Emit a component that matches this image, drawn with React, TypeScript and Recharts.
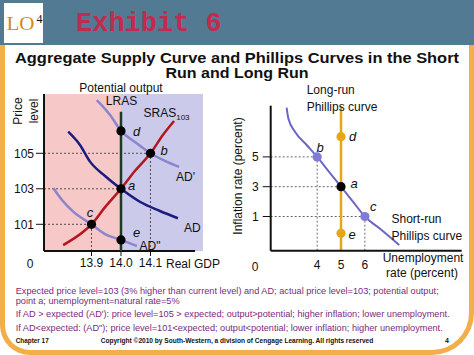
import React from 'react';
import { ComposedChart, Line, Scatter, XAxis, YAxis, ReferenceArea, ReferenceLine } from 'recharts';

const FONT = '"Liberation Sans", Arial, Helvetica, sans-serif';

// ---------- Left panel: aggregate supply / demand ----------
const AS_X_TICKS = [13.9, 14.0, 14.1];
const AS_Y_TICKS = [101, 103, 105];
const AS_X_DOMAIN: [number, number] = [13.739, 14.278];
const AS_Y_DOMAIN: [number, number] = [99.496, 108.34];
const AS_AXIS_END = 14.251;
const POTENTIAL_OUTPUT = 14.0;
const LRAS_TOP = 107.34;

const AD_CURVE = [
  { x: 13.821, y: 106.22 }, { x: 13.861, y: 105.47 }, { x: 13.895, y: 104.53 },
  { x: 13.946, y: 103.72 }, { x: 14.0, y: 103.0 }, { x: 14.064, y: 102.27 },
  { x: 14.132, y: 101.75 }, { x: 14.193, y: 101.34 },
];
const AD_HIGH_CURVE = [
  { x: 13.918, y: 108.0 }, { x: 13.963, y: 107.16 }, { x: 14.0, y: 106.26 },
  { x: 14.047, y: 105.64 }, { x: 14.1, y: 105.0 }, { x: 14.149, y: 104.57 },
  { x: 14.197, y: 104.23 },
];
const AD_LOW_CURVE = [
  { x: 13.771, y: 103.03 }, { x: 13.8, y: 102.37 }, { x: 13.838, y: 101.71 },
  { x: 13.9, y: 101.0 }, { x: 13.946, y: 100.45 }, { x: 14.0, y: 100.12 },
  { x: 14.054, y: 99.78 },
];
const SRAS_CURVE = [
  { x: 13.804, y: 99.83 }, { x: 13.872, y: 100.58 }, { x: 13.9, y: 101.0 },
  { x: 13.946, y: 101.97 }, { x: 14.0, y: 103.0 }, { x: 14.047, y: 104.0 },
  { x: 14.1, y: 105.0 }, { x: 14.142, y: 106.03 }, { x: 14.18, y: 106.82 },
];
const AS_POINTS = [
  { name: 'd', x: 14.0, y: 106.26 },
  { name: 'b', x: 14.1, y: 105.0 },
  { name: 'a', x: 14.0, y: 103.0 },
  { name: 'c', x: 13.9, y: 101.0 },
  { name: 'e', x: 14.0, y: 100.12 },
];
const AS_H_GUIDES = ['b', 'a', 'c'];
const AS_V_GUIDES = ['b', 'c'];

// ---------- Right panel: Phillips curves ----------
const PC_X_TICKS = [4, 5, 6];
const PC_Y_TICKS = [1, 3, 5];
const PC_X_DOMAIN: [number, number] = [2.052, 10.06];
const PC_Y_DOMAIN: [number, number] = [-1.295, 8.436];
const NATURAL_RATE = 5;
const LRPC_TOP = 8.43;
const SRPC_CURVE = [
  { x: 2.72, y: 8.3 }, { x: 2.79, y: 7.59 }, { x: 3.07, y: 6.69 }, { x: 3.56, y: 5.8 },
  { x: 4.0, y: 5.0 }, { x: 4.5, y: 4.0 }, { x: 5.0, y: 3.0 }, { x: 5.5, y: 2.0 },
  { x: 6.0, y: 1.0 }, { x: 6.7, y: 0.1 }, { x: 7.44, y: -0.91 },
];
const PC_POINTS = [
  { name: 'd', x: 5, y: 6.36 },
  { name: 'b', x: 4, y: 5 },
  { name: 'a', x: 5, y: 3 },
  { name: 'c', x: 6, y: 1 },
  { name: 'e', x: 5, y: -0.13 },
];
const PC_H_GUIDES = ['b', 'a', 'c'];
const PC_V_GUIDES = ['b', 'c'];

const PC_POINT_COLORS: Record<string, string> = {
  d: '#e6a619', e: '#e6a619', a: '#000000', b: '#7f7bd6', c: '#7f7bd6',
};

const tickStyle = { fill: '#111', fontSize: 12, fontFamily: FONT };

function pick(list: { name: string; x: number; y: number }[], n: string) {
  return list.find((p) => p.name === n)!;
}

function ASChart() {
  return (
    <div style={{ position: 'absolute', left: 0, top: 0 }}>
      <ComposedChart width={240} height={290} margin={{ top: 94, right: 37, bottom: 9, left: 14 }}>
        <XAxis type="number" dataKey="x" domain={AS_X_DOMAIN} ticks={AS_X_TICKS} allowDataOverflow
          axisLine={false} tickLine={{ stroke: '#111' }} tickSize={5} tickMargin={2} height={30}
          tick={tickStyle} interval={0} tickFormatter={(v: number) => v.toFixed(1)} />
        <YAxis type="number" dataKey="y" domain={AS_Y_DOMAIN} ticks={AS_Y_TICKS} allowDataOverflow
          axisLine={{ stroke: '#111', strokeWidth: 2 }} tickLine={{ stroke: '#111' }} tickSize={8}
          tickMargin={2} width={30} tick={tickStyle} interval={0} />
        <ReferenceArea x1={AS_X_DOMAIN[0]} x2={POTENTIAL_OUTPUT} y1={AS_Y_DOMAIN[0]} y2={AS_Y_DOMAIN[1]}
          fill="#f6c8c7" fillOpacity={1} stroke="none" ifOverflow="visible" />
        <ReferenceArea x1={POTENTIAL_OUTPUT} x2={AS_X_DOMAIN[1]} y1={AS_Y_DOMAIN[0]} y2={AS_Y_DOMAIN[1]}
          fill="#cbcaea" fillOpacity={1} stroke="none" ifOverflow="visible" />
        {AS_H_GUIDES.map((n) => {
          const p = pick(AS_POINTS, n);
          return <ReferenceLine key={'h' + n} segment={[{ x: AS_X_DOMAIN[0], y: p.y }, { x: p.x, y: p.y }]}
            stroke="#5a4a4a" strokeWidth={1} strokeDasharray="2 2" ifOverflow="visible" />;
        })}
        {AS_V_GUIDES.map((n) => {
          const p = pick(AS_POINTS, n);
          return <ReferenceLine key={'v' + n} segment={[{ x: p.x, y: AS_Y_DOMAIN[0] }, { x: p.x, y: p.y }]}
            stroke="#5a4a4a" strokeWidth={1} strokeDasharray="2 2" ifOverflow="visible" />;
        })}
        <ReferenceLine segment={[{ x: AS_X_DOMAIN[0], y: AS_Y_DOMAIN[0] }, { x: AS_AXIS_END, y: AS_Y_DOMAIN[0] }]}
          stroke="#111" strokeWidth={2} ifOverflow="visible" />
        <Line data={AD_HIGH_CURVE} dataKey="y" type="monotone" stroke="#8d84cf" strokeWidth={2.5} dot={false} isAnimationActive={false} />
        <Line data={AD_LOW_CURVE} dataKey="y" type="monotone" stroke="#8d84cf" strokeWidth={2.5} dot={false} isAnimationActive={false} />
        <Line data={AD_CURVE} dataKey="y" type="monotone" stroke="#1b1b82" strokeWidth={2.5} dot={false} isAnimationActive={false} />
        <Line data={SRAS_CURVE} dataKey="y" type="monotone" stroke="#b3161d" strokeWidth={2.5} dot={false} isAnimationActive={false} />
        <Line data={[{ x: POTENTIAL_OUTPUT, y: AS_Y_DOMAIN[0] }, { x: POTENTIAL_OUTPUT, y: LRAS_TOP }]} dataKey="y"
          type="linear" stroke="#1d3a24" strokeWidth={2.5} dot={false} isAnimationActive={false} />
        <Scatter data={AS_POINTS} isAnimationActive={false}
          shape={(p: any) => <circle cx={p.cx} cy={p.cy} r={4.6} fill="#000" />} />
      </ComposedChart>
    </div>
  );
}

function PCChart() {
  return (
    <div style={{ position: 'absolute', left: 230, top: 80 }}>
      <ComposedChart width={244} height={210} margin={{ top: 25.7, right: 12.3, bottom: 9.3, left: 10.7 }}>
        <XAxis type="number" dataKey="x" domain={PC_X_DOMAIN} ticks={PC_X_TICKS} allowDataOverflow
          axisLine={{ stroke: '#111', strokeWidth: 2 }} tickLine={false} tickSize={6} tickMargin={4} height={30}
          tick={tickStyle} interval={0} />
        <YAxis type="number" dataKey="y" domain={PC_Y_DOMAIN} ticks={PC_Y_TICKS} allowDataOverflow
          axisLine={{ stroke: '#111', strokeWidth: 2 }} tickLine={{ stroke: '#111' }} tickSize={8}
          tickMargin={4} width={30} tick={tickStyle} interval={0} />
        {PC_H_GUIDES.map((n) => {
          const p = pick(PC_POINTS, n);
          return <ReferenceLine key={'h' + n} segment={[{ x: PC_X_DOMAIN[0], y: p.y }, { x: p.x, y: p.y }]}
            stroke="#6a6a6a" strokeWidth={1} strokeDasharray="2 2" ifOverflow="visible" />;
        })}
        {PC_V_GUIDES.map((n) => {
          const p = pick(PC_POINTS, n);
          return <ReferenceLine key={'v' + n} segment={[{ x: p.x, y: PC_Y_DOMAIN[0] }, { x: p.x, y: p.y }]}
            stroke="#6a6a6a" strokeWidth={1} strokeDasharray="2 2" ifOverflow="visible" />;
        })}
        <Line data={[{ x: NATURAL_RATE, y: PC_Y_DOMAIN[0] }, { x: NATURAL_RATE, y: LRPC_TOP }]} dataKey="y"
          type="linear" stroke="#e6a619" strokeWidth={2.5} dot={false} isAnimationActive={false} />
        <Line data={SRPC_CURVE} dataKey="y" type="monotone" stroke="#6c66c6" strokeWidth={2} dot={false} isAnimationActive={false} />
        <Scatter data={PC_POINTS} isAnimationActive={false}
          shape={(p: any) => <circle cx={p.cx} cy={p.cy} r={4.6} fill={PC_POINT_COLORS[p.payload.name]} />} />
      </ComposedChart>
    </div>
  );
}

function Overlay() {
  const txt = { fontFamily: FONT, fill: '#111' } as const;
  const purple = { fontFamily: FONT, fill: '#7b2a7d', fontSize: 9 } as const;
  const it = { ...txt, fontSize: 13, fontStyle: 'italic' as const, textAnchor: 'middle' as const, dominantBaseline: 'central' as const };
  return (
    <svg width={474} height={355} style={{ position: 'absolute', left: 0, top: 0 }}>
      {/* header */}
      <text x={6.5} y={30} fontFamily='"Liberation Serif", "Times New Roman", serif' fontSize={19} fill="#cf8a22"
        textLength={28} lengthAdjust="spacingAndGlyphs">LO</text>
      <text x={36.5} y={23} fontFamily='"Liberation Serif", "Times New Roman", serif' fontSize={12} fill="#111">4</text>
      <text x={76} y={31} fontFamily='"Liberation Mono", "Courier New", monospace' fontWeight="bold" fontSize={27}
        fill="#c32a51">Exhibit 6</text>
      {/* title */}
      <text x={237} y={63} {...txt} fontWeight="bold" fontSize={14} textAnchor="middle" textLength={444}
        lengthAdjust="spacingAndGlyphs">Aggregate Supply Curve and Phillips Curves in the Short</text>
      <text x={237} y={77.5} {...txt} fontWeight="bold" fontSize={14} textAnchor="middle" textLength={143}
        lengthAdjust="spacingAndGlyphs">Run and Long Run</text>

      {/* left chart labels */}
      <text x={18} y={111} {...txt} fontSize={12} textAnchor="middle" dominantBaseline="central"
        transform="rotate(-90 18 111)">Price</text>
      <text x={33.5} y={111} {...txt} fontSize={12} textAnchor="middle" dominantBaseline="central"
        transform="rotate(-90 33.5 111)">level</text>
      <text x={121} y={91.5} {...txt} fontSize={12} textAnchor="middle">Potential output</text>
      <text x={121.5} y={105} {...txt} fontSize={12} textAnchor="middle">LRAS</text>
      <text x={143.5} y={117} {...txt} fontSize={12}>SRAS<tspan fontSize={8} dy={3}>103</tspan></text>
      <text x={136.7} y={131} {...it}>d</text>
      <text x={164} y={150} {...it}>b</text>
      <text x={131.7} y={185} {...it}>a</text>
      <text x={90} y={212.7} {...it}>c</text>
      <text x={136.7} y={232} {...it}>e</text>
      <text x={176} y={181} {...txt} fontSize={12}>AD'</text>
      <text x={184} y={232} {...txt} fontSize={12}>AD</text>
      <text x={139.5} y={249.5} {...txt} fontSize={12}>AD"</text>
      <text x={30} y={264} {...txt} fontSize={12} textAnchor="middle" dominantBaseline="central">0</text>
      <text x={166} y={264} {...txt} fontSize={12} dominantBaseline="central">Real GDP</text>

      {/* right chart labels */}
      <text x={238} y={176} {...txt} fontSize={12} textAnchor="middle" dominantBaseline="central"
        transform="rotate(-90 238 176)">Inflation rate (percent)</text>
      <text x={306.7} y={93.5} {...txt} fontSize={12}>Long-run</text>
      <text x={306.7} y={110.5} {...txt} fontSize={12}>Phillips curve</text>
      <text x={320} y={147} {...it}>b</text>
      <text x={352.7} y={136} {...it}>d</text>
      <text x={354} y={183.5} {...it}>a</text>
      <text x={373.3} y={206} {...it}>c</text>
      <text x={352} y={234.5} {...it}>e</text>
      <text x={391.5} y={222.5} {...txt} fontSize={12}>Short-run</text>
      <text x={391.5} y={240} {...txt} fontSize={12}>Phillips curve</text>
      <text x={382.7} y={262} {...txt} fontSize={12}>Unemployment</text>
      <text x={386} y={277} {...txt} fontSize={12}>rate (percent)</text>
      <text x={255} y={266.5} {...txt} fontSize={12} textAnchor="middle" dominantBaseline="central">0</text>

      {/* notes */}
      <text x={15.7} y={294.3} {...purple} textLength={423} lengthAdjust="spacingAndGlyphs">Expected price level=103 (3% higher than current level) and AD; actual price level=103; potential output;</text>
      <text x={15.7} y={304.3} {...purple} textLength={164} lengthAdjust="spacingAndGlyphs">point a; unemployment=natural rate=5%</text>
      <text x={15.7} y={317} {...purple} textLength={434} lengthAdjust="spacingAndGlyphs">If AD &gt; expected (AD'): price level=105 &gt; expected; output&gt;potential; higher inflation; lower unemployment.</text>
      <text x={15.7} y={331} {...purple} textLength={427} lengthAdjust="spacingAndGlyphs">If AD&lt;expected: (AD"); price level=101&lt;expected; output&lt;potential; lower inflation; higher unemployment.</text>
      <text x={15.7} y={343} {...txt} fontSize={7} fontWeight="bold" textLength={33} lengthAdjust="spacingAndGlyphs">Chapter 17</text>
      <text x={100.7} y={343} {...txt} fontSize={7} fontWeight="bold" textLength={272.6} lengthAdjust="spacingAndGlyphs">Copyright ©2010 by South-Western, a division of Cengage Learning.  All rights reserved</text>
      <text x={445} y={343} {...txt} fontSize={7} fontWeight="bold">4</text>
    </svg>
  );
}

export default function App() {
  return (
    <div style={{ position: 'absolute', left: 0, top: 0, width: 474, height: 355, background: '#fff', overflow: 'hidden' }}>
      <div style={{ position: 'absolute', left: 0, top: 0, width: 474, height: 45, background: '#527a92' }} />
      <div style={{ position: 'absolute', left: 4, top: 3, width: 39, height: 40, background: '#fff' }} />
      <div style={{
        position: 'absolute', left: 0, top: 45, width: 474, height: 310, boxSizing: 'border-box',
        border: '5px solid #f2ae48', borderTop: 'none', borderBottomLeftRadius: 30, borderBottomRightRadius: 42,
      }} />
      <ASChart />
      <PCChart />
      <Overlay />
    </div>
  );
}
